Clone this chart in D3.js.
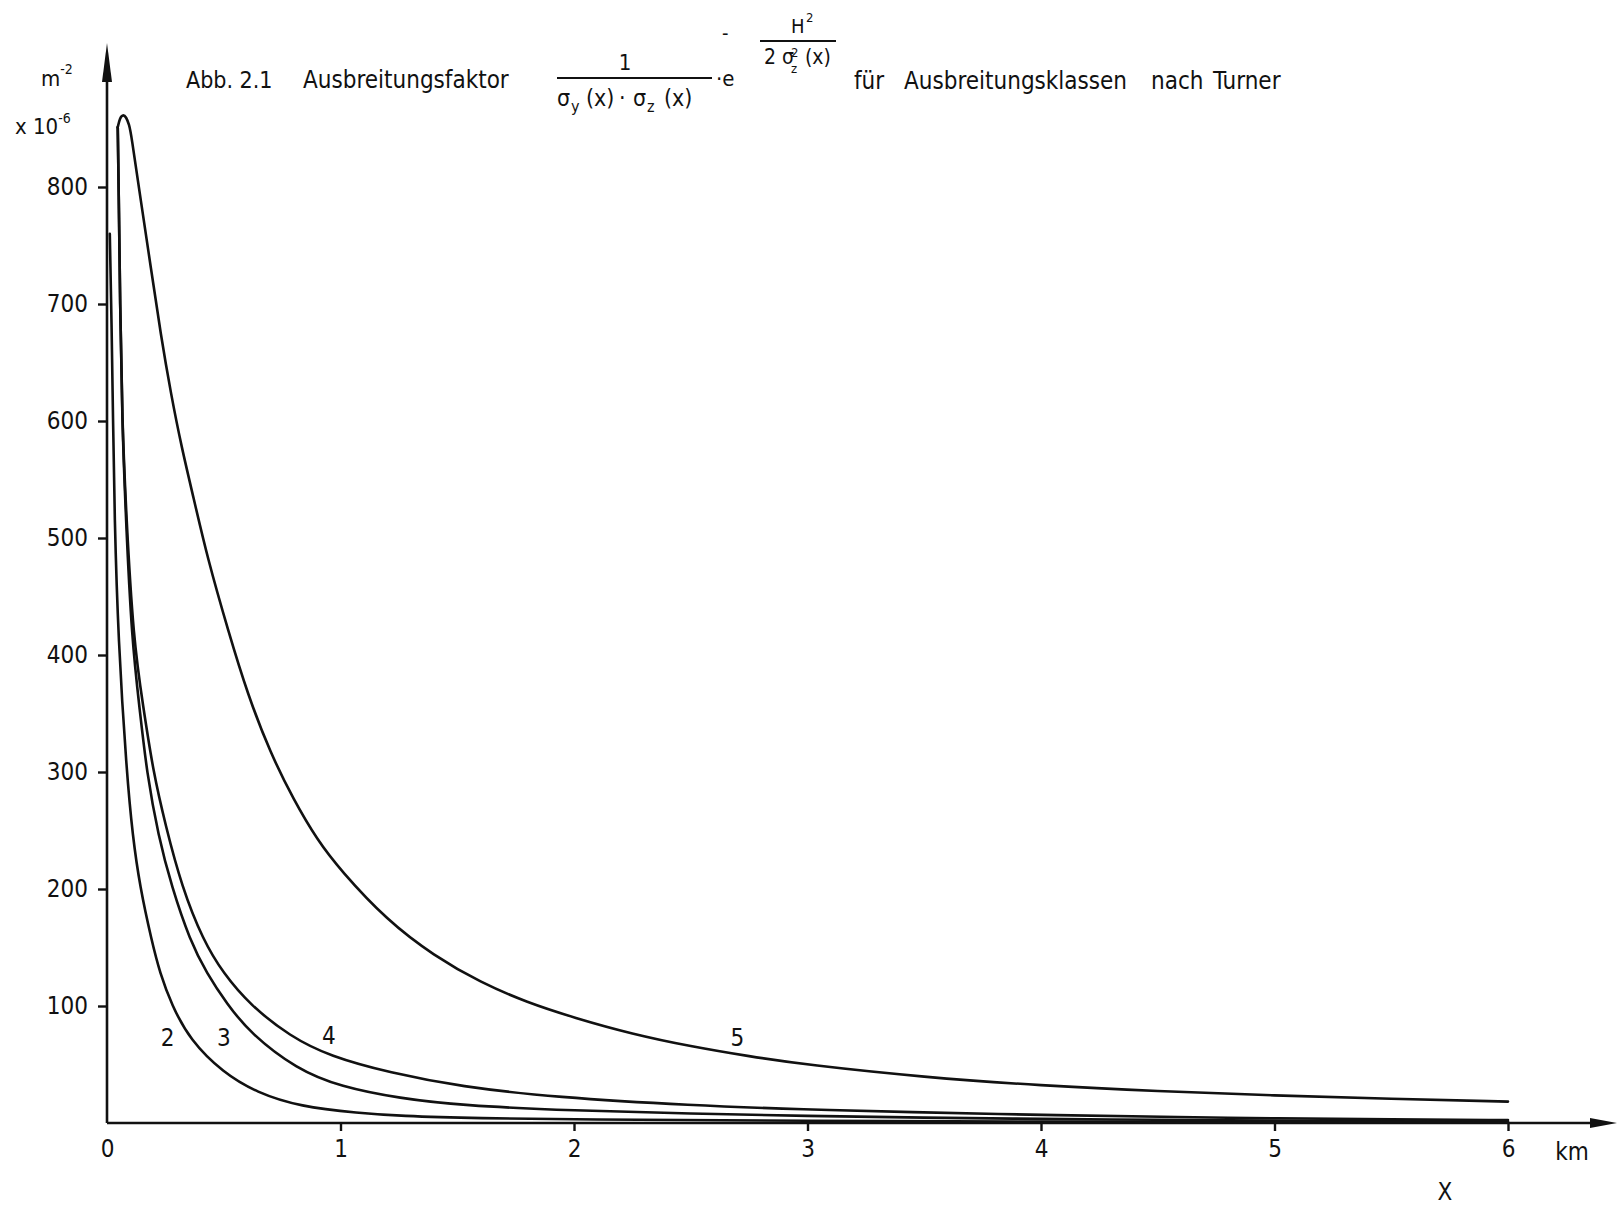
<!DOCTYPE html>
<html>
<head>
<meta charset="utf-8">
<script src="https://cdn.jsdelivr.net/npm/d3@7"></script>
<style>
  body { margin: 0; background: #fff; }
  svg text { font-family: "DejaVu Sans Condensed", "DejaVu Sans", sans-serif; font-stretch: condensed; fill: #111; }
</style>
</head>
<body>
<div id="chart"></div>
<script>
// distance x in km, factor in 10^-6 m^-2
const xTicks = [0, 1, 2, 3, 4, 5, 6];
const yTicks = [100, 200, 300, 400, 500, 600, 700, 800];
const classNames = ["2", "3", "4", "5"];

// Turner classes
const class2 = [[0.012, 760], [0.02, 680], [0.026, 600], [0.032, 520], [0.048, 413], [0.084, 300],
  [0.11, 245], [0.141, 202], [0.191, 156], [0.227, 128], [0.277, 101], [0.355, 71], [0.497, 43],
  [0.641, 26], [0.826, 14], [1.08, 8.5], [1.25, 6], [1.6, 4], [2.0, 3], [3.0, 1.8], [4.0, 1.2],
  [5.0, 0.8], [6.0, 0.5]];
const class3 = [[0.046, 851], [0.05, 800], [0.056, 700], [0.065, 600], [0.08, 520], [0.106, 413],
  [0.141, 352], [0.17, 300], [0.22, 245], [0.277, 202], [0.355, 156], [0.427, 128], [0.513, 102],
  [0.612, 77], [0.812, 46], [1.0, 31], [1.255, 21], [1.515, 15], [2.0, 10.5], [2.5, 8], [3.0, 6],
  [3.5, 4.5], [4.0, 3.5], [4.5, 2.7], [5.0, 2], [5.5, 1.5], [6.0, 1.2]];
const class4 = [[0.046, 851], [0.05, 800], [0.056, 700], [0.065, 600], [0.082, 520], [0.113, 413],
  [0.155, 356], [0.198, 300], [0.25, 255], [0.32, 202], [0.412, 156], [0.498, 128], [0.612, 101],
  [0.784, 74], [0.955, 57], [1.21, 43], [1.515, 31], [1.92, 22], [2.5, 15], [3.0, 11.5],
  [3.4, 9.4], [4.1, 6.5], [4.6, 5], [5.0, 4], [5.5, 3], [6.0, 2.5]];
const class5 = [[0.046, 851], [0.055, 859], [0.068, 862], [0.082, 860], [0.095, 853], [0.103, 846],
  [0.145, 788], [0.188, 731], [0.23, 674], [0.274, 623], [0.32, 577], [0.37, 535], [0.43, 483],
  [0.52, 420], [0.603, 366], [0.7, 316], [0.8, 276], [0.9, 242], [1.0, 216], [1.2, 173],
  [1.4, 143], [1.6, 120], [1.8, 103], [2.0, 90], [2.25, 76], [2.5, 65.5], [2.75, 57], [3.0, 49.6],
  [3.5, 39.1], [4.0, 32], [4.5, 27.1], [5.0, 23.5], [5.5, 20.7], [6.0, 18.3]];
const series = [class2, class3, class4, class5];
// where the class numbers sit (km, value)
const labelAt = [[0.26, 73], [0.5, 73], [0.95, 75], [2.7, 73]];

const width = 1618, height = 1207;
const ink = "#111";

const svg = d3.select("#chart").append("svg")
    .attr("width", width)
    .attr("height", height);

svg.append("rect").attr("width", width).attr("height", height).attr("fill", "#fff");

const x = d3.scaleLinear().domain([0, 6]).range([107, 1508]);
const y = d3.scaleLinear().domain([0, 800]).range([1123, 187]);

// axes lines with arrows
svg.append("line")
    .attr("x1", x(0)).attr("x2", x(0))
    .attr("y1", y(0)).attr("y2", 70)
    .attr("stroke", ink).attr("stroke-width", 2.6);
svg.append("path")
    .attr("d", `M${x(0)},43 L${x(0) - 5},82 L${x(0) + 5},82 Z`)
    .attr("fill", ink);

svg.append("line")
    .attr("x1", x(0)).attr("x2", 1595)
    .attr("y1", y(0)).attr("y2", y(0))
    .attr("stroke", ink).attr("stroke-width", 2.6);
svg.append("path")
    .attr("d", `M1617,${y(0)} L1590,${y(0) - 5} L1590,${y(0) + 5} Z`)
    .attr("fill", ink);

const yAxis = svg.append("g")
    .attr("transform", `translate(${x(0)},0)`)
    .call(d3.axisLeft(y).tickValues(yTicks).tickSize(9).tickPadding(10).tickFormat(d3.format("d")));
const xAxis = svg.append("g")
    .attr("transform", `translate(0,${y(0)})`)
    .call(d3.axisBottom(x).tickValues(xTicks).tickSize(8).tickPadding(9).tickFormat(d3.format("d")));

[yAxis, xAxis].forEach(g => {
    g.select(".domain").remove();
    g.selectAll(".tick line").attr("stroke", ink).attr("stroke-width", 2.4);
    g.selectAll(".tick text")
        .attr("font-size", 24)
        .attr("font-family", "'DejaVu Sans Condensed', 'DejaVu Sans', sans-serif")
        .attr("fill", ink);
});
// no tick mark at the origin
xAxis.selectAll(".tick").filter(d => d === 0).select("line").remove();

// curves
const line = d3.line()
    .x(d => x(d[0]))
    .y(d => y(d[1]))
    .curve(d3.curveBasis);

svg.selectAll(".curve")
    .data(series)
    .enter().append("path")
    .attr("class", "curve")
    .attr("d", line)
    .attr("fill", "none")
    .attr("stroke", ink)
    .attr("stroke-width", 2.6)
    .attr("stroke-linejoin", "round")
    .attr("stroke-linecap", "round");

svg.selectAll(".classlabel")
    .data(classNames)
    .enter().append("text")
    .attr("class", "classlabel")
    .attr("x", (d, i) => x(labelAt[i][0]))
    .attr("y", (d, i) => y(labelAt[i][1]))
    .attr("dy", "0.36em")
    .attr("text-anchor", "middle")
    .attr("font-size", 24)
    .text(d => d);

// units
svg.append("text").attr("x", 41).attr("y", 86).attr("font-size", 22).text("m")
    .append("tspan").attr("dy", -12).attr("font-size", 14).text("-2");
svg.append("text").attr("x", 15).attr("y", 134).attr("font-size", 22).text("x 10")
    .append("tspan").attr("dy", -11).attr("font-size", 14).text("-6");
svg.append("text").attr("x", 1572).attr("y", 1160).attr("text-anchor", "middle").attr("font-size", 24).text("km");
svg.append("text").attr("x", 1445).attr("y", 1200).attr("text-anchor", "middle").attr("font-size", 24).text("X");

// title
const t = svg.append("g");
t.append("text").attr("x", 186).attr("y", 88).attr("font-size", 23).text("Abb. 2.1");
t.append("text").attr("x", 303).attr("y", 88).attr("font-size", 24).text("Ausbreitungsfaktor");

t.append("text").attr("x", 625).attr("y", 70).attr("text-anchor", "middle").attr("font-size", 22).text("1");
t.append("line").attr("x1", 557).attr("x2", 712).attr("y1", 78).attr("y2", 78)
    .attr("stroke", ink).attr("stroke-width", 2);
const den = t.append("text").attr("y", 106).attr("font-size", 23);
den.append("tspan").attr("x", 557).text("σ");
den.append("tspan").attr("x", 571).attr("dy", 6).attr("font-size", 16).text("y");
den.append("tspan").attr("x", 586).attr("dy", -6).text("(x)");
den.append("tspan").attr("x", 619).text("·");
den.append("tspan").attr("x", 633).text("σ");
den.append("tspan").attr("x", 647).attr("dy", 6).attr("font-size", 16).text("z");
den.append("tspan").attr("x", 664).attr("dy", -6).text("(x)");

t.append("text").attr("x", 716).attr("y", 86).attr("font-size", 22).text("·e");

t.append("text").attr("x", 722).attr("y", 40).attr("font-size", 20).text("-");
t.append("text").attr("x", 791).attr("y", 33).attr("font-size", 20).text("H");
t.append("text").attr("x", 806).attr("y", 22).attr("font-size", 13).text("2");
t.append("line").attr("x1", 760).attr("x2", 836).attr("y1", 41).attr("y2", 41)
    .attr("stroke", ink).attr("stroke-width", 2);
t.append("text").attr("x", 764).attr("y", 64).attr("font-size", 21).text("2 σ");
t.append("text").attr("x", 791).attr("y", 57).attr("font-size", 13).text("2");
t.append("text").attr("x", 791).attr("y", 73).attr("font-size", 13).text("z");
t.append("text").attr("x", 805).attr("y", 64).attr("font-size", 21).text("(x)");

t.append("text").attr("x", 854).attr("y", 89).attr("font-size", 24).text("für");
t.append("text").attr("x", 904).attr("y", 89).attr("font-size", 24).text("Ausbreitungsklassen");
t.append("text").attr("x", 1151).attr("y", 89).attr("font-size", 24).text("nach");
t.append("text").attr("x", 1213).attr("y", 89).attr("font-size", 24).text("Turner");
</script>
</body>
</html>
